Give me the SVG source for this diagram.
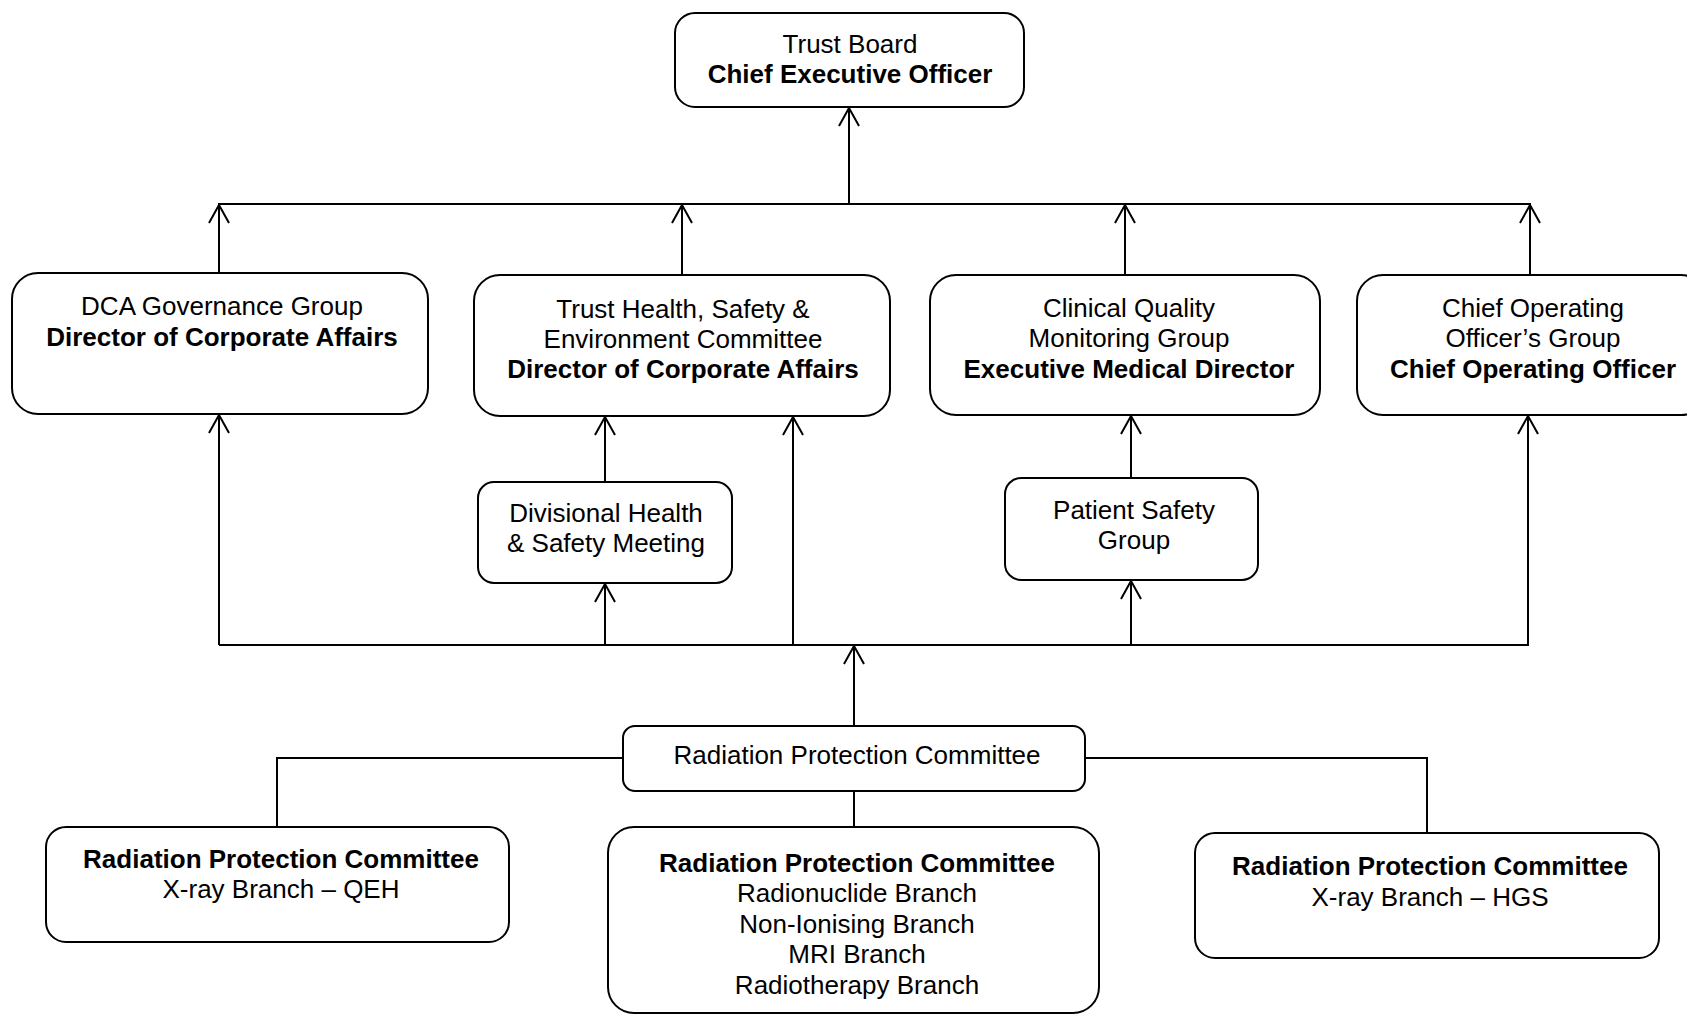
<svg xmlns="http://www.w3.org/2000/svg" width="1687" height="1015" viewBox="0 0 1687 1015">
<defs>
<style>
.box{fill:#fff;stroke:#000;stroke-width:2}
.ln{fill:none;stroke:#000;stroke-width:2}
.ar{fill:none;stroke:#000;stroke-width:2;marker-end:url(#arr)}
text{font-family:"Liberation Sans",Arial,sans-serif;font-size:26px;fill:#000;text-anchor:middle}
.b{font-weight:bold}
</style>
<marker id="arr" markerUnits="userSpaceOnUse" markerWidth="22" markerHeight="24" viewBox="0 0 22 24" refX="20" refY="12" orient="auto">
<path d="M2,2 L20,12 L2,22" fill="none" stroke="#000" stroke-width="2" stroke-linejoin="round"/>
</marker>
</defs>
<rect width="1687" height="1015" fill="#fff"/>
<g id="connectors">
<line class="ar" x1="849" y1="204" x2="849" y2="108"/>
<line class="ln" x1="218" y1="204" x2="1531" y2="204"/>
<line class="ar" x1="219" y1="273" x2="219" y2="205"/>
<line class="ar" x1="682" y1="275" x2="682" y2="205"/>
<line class="ar" x1="1125" y1="275" x2="1125" y2="205"/>
<line class="ar" x1="1530" y1="275" x2="1530" y2="205"/>
<line class="ln" x1="219" y1="645" x2="1529" y2="645"/>
<line class="ar" x1="219" y1="645" x2="219" y2="415"/>
<line class="ar" x1="605" y1="645" x2="605" y2="584"/>
<line class="ar" x1="605" y1="482" x2="605" y2="417"/>
<line class="ar" x1="793" y1="645" x2="793" y2="417"/>
<line class="ar" x1="1131" y1="645" x2="1131" y2="581"/>
<line class="ar" x1="1131" y1="478" x2="1131" y2="416"/>
<line class="ar" x1="1528" y1="645" x2="1528" y2="416"/>
<line class="ar" x1="854" y1="726" x2="854" y2="646"/>
<polyline class="ln" points="623,758 277,758 277,827"/>
<polyline class="ln" points="1085,758 1427,758 1427,833"/>
<line class="ln" x1="854" y1="791" x2="854" y2="827"/>
</g>
<g id="trust-board">
<rect class="box" x="675" y="13" width="349" height="94" rx="20"/>
<text x="850" y="53">Trust Board</text>
<text class="b" x="850" y="83">Chief Executive Officer</text>
</g>
<g id="dca">
<rect class="box" x="12" y="273" width="416" height="141" rx="26"/>
<text x="222" y="315">DCA Governance Group</text>
<text class="b" x="222" y="346">Director of Corporate Affairs</text>
</g>
<g id="trust-hs">
<rect class="box" x="474" y="275" width="416" height="141" rx="26"/>
<text x="683" y="318">Trust Health, Safety &amp;</text>
<text x="683" y="348">Environment Committee</text>
<text class="b" x="683" y="378">Director of Corporate Affairs</text>
</g>
<g id="cqmg">
<rect class="box" x="930" y="275" width="390" height="140" rx="26"/>
<text x="1129" y="317">Clinical Quality</text>
<text x="1129" y="347">Monitoring Group</text>
<text class="b" x="1129" y="378">Executive Medical Director</text>
</g>
<g id="coo">
<rect class="box" x="1357" y="275" width="350" height="140" rx="26"/>
<text x="1533" y="317">Chief Operating</text>
<text x="1533" y="347">Officer’s Group</text>
<text class="b" x="1533" y="378">Chief Operating Officer</text>
</g>
<g id="divisional">
<rect class="box" x="478" y="482" width="254" height="101" rx="16"/>
<text x="606" y="522">Divisional Health</text>
<text x="606" y="552">&amp; Safety Meeting</text>
</g>
<g id="patient-safety">
<rect class="box" x="1005" y="478" width="253" height="102" rx="16"/>
<text x="1134" y="519">Patient Safety</text>
<text x="1134" y="549">Group</text>
</g>
<g id="rpc">
<rect class="box" x="623" y="726" width="462" height="65" rx="12"/>
<text x="857" y="764">Radiation Protection Committee</text>
</g>
<g id="rpc-qeh">
<rect class="box" x="46" y="827" width="463" height="115" rx="20"/>
<text class="b" x="281" y="868">Radiation Protection Committee</text>
<text x="281" y="898">X-ray Branch – QEH</text>
</g>
<g id="rpc-middle">
<rect class="box" x="608" y="827" width="491" height="186" rx="26"/>
<text class="b" x="857" y="872">Radiation Protection Committee</text>
<text x="857" y="902">Radionuclide Branch</text>
<text x="857" y="933">Non-Ionising Branch</text>
<text x="857" y="963">MRI Branch</text>
<text x="857" y="994">Radiotherapy Branch</text>
</g>
<g id="rpc-hgs">
<rect class="box" x="1195" y="833" width="464" height="125" rx="20"/>
<text class="b" x="1430" y="875">Radiation Protection Committee</text>
<text x="1430" y="906">X-ray Branch – HGS</text>
</g>
</svg>
